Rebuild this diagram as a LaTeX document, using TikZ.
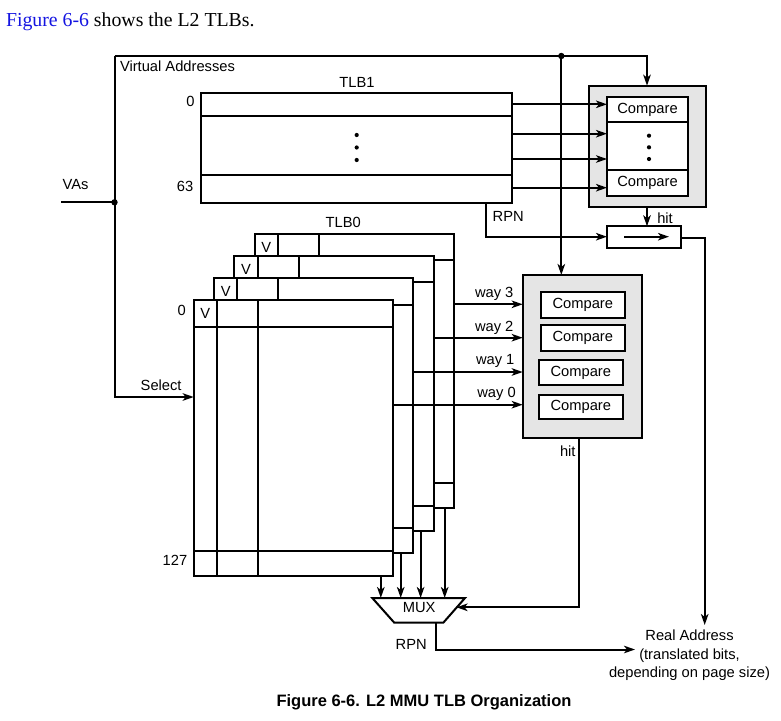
\documentclass[tikz,border=0pt]{standalone}
\usepackage{fontspec}
\setmainfont{Liberation Sans}
\newfontfamily\seriffont{Liberation Serif}
\usetikzlibrary{arrows.meta,calc}
\definecolor{linkblue}{RGB}{20,20,225}
\definecolor{boxgray}{gray}{0.9}
\begin{document}
\begin{tikzpicture}[x=1pt,y=-1pt,line width=2pt,line join=miter,
  >={Stealth[length=11pt,width=7.5pt,inset=3pt]},
  lbl/.style={font=\fontsize{14.7}{17}\selectfont,inner sep=0pt,outer sep=0pt},
  dotc/.style={fill=black,draw=none}]
\useasboundingbox (0,0) rectangle (781,720);
% header text
\node[anchor=base west,inner sep=0pt,font=\seriffont\fontsize{19.8}{22}\selectfont] (hdr) at (5,26) {\textcolor{linkblue}{Figure 6-6} shows the L2 TLBs.};
% ---------- TLB1 ----------
\coordinate (t1nw) at (201,92.7);
\coordinate (t1se) at (512.3,202.7);
\draw (t1nw) rectangle (t1se);
\draw (201,116.3) -- (512.3,116.3);
\draw (201,175) -- (512.3,175);
\foreach \yy in {135,147.5,160} \fill (356.7,\yy) circle (2.1);
\node[lbl,anchor=base] (tlbone) at (357,87) {TLB1};
\node[lbl,anchor=base] (t1zero) at (190.5,106.7) {0};
\node[lbl,anchor=base] (t1last) at (185,191) {63};
% ---------- TLB1 compare ----------
\draw[fill=boxgray] (589,85.7) rectangle (706,207.3);
\draw[fill=white] (607,97) rectangle (688,195.7);
\draw (607,122.3) -- (688,122.3);
\draw (607,169.7) -- (688,169.7);
\node[lbl] (cmpa) at (647.5,109.8) {Compare};
\node[lbl] (cmpb) at (647.5,182.8) {Compare};
\foreach \yy in {135.7,147.3,159} \fill (649,\yy) circle (2.1);
\foreach \yy in {104.3,133.7,159,187.7} \draw[->] (512.3,\yy) -- (607,\yy);
% hit box
\draw (607,226.3) rectangle (681.3,247.7);
\coordinate (hbl) at (624,236.7);
\coordinate (hbr) at (669,236.7);
\draw[->] (hbl) -- (hbr);
\draw[->] (647,207.3) -- (647,226.3);
\node[lbl,anchor=base west] (hitone) at (657.3,223.3) {hit};
\draw[->] (486,202.7) -- (486,236.7) -- (607,236.7);
\node[lbl,anchor=base west] (rpnone) at (492.7,221) {RPN};
\coordinate (realin) at (704.7,625);
\draw[->] (681.3,237.7) -- (704.7,237.7) -- (realin);
% ---------- VA wiring ----------
\coordinate (vaj) at (114.5,202.3);
\coordinate (vtop) at (114.5,56);
\coordinate (sj) at (561.3,56);
\draw (61,202.3) -- (vaj);
\draw[->] (vtop) -- (647,56) -- (647,85.7);
\draw[->] (vtop) -- (114.5,397) -- (193.7,397);
\draw[->] (sj) -- (561.3,275);
\fill (vaj) circle (3.2);
\fill (sj) circle (3.2);
\node[lbl,anchor=base west] (vas) at (62.7,189) {VAs};
\node[lbl,anchor=base west] (vaddr) at (120,71) {Virtual Addresses};
\node[lbl,anchor=base west] (sel) at (140.7,390) {Select};
% ---------- TLB0 stack ----------
\foreach \k in {3,2,1,0} {
  \pgfmathsetmacro\L{193.7+20.3*\k}
  \pgfmathsetmacro\T{300.3-22.2*\k}
  \pgfmathsetmacro\R{392.7+20.4*\k}
  \pgfmathsetmacro\B{575.7-22.6*\k}
  \draw[fill=white] (\L,\T) rectangle (\R,\B);
  \draw (\L,\T+26.4) -- (\R,\T+26.4);
  \draw (\L,\B-24.7) -- (\R,\B-24.7);
  \draw (\L+23.3,\T) -- (\L+23.3,\B);
  \draw (\L+64.3,\T) -- (\L+64.3,\B);
  \node[lbl] (v\k) at (\L+11.65,\T+13.6) {V};
}
\node[lbl,anchor=base] (tlbzero) at (343.3,227.3) {TLB0};
\node[lbl,anchor=base] (t0zero) at (181.7,315.7) {0};
\node[lbl,anchor=base] (t0last) at (175,565.7) {127};
% ---------- TLB0 compare ----------
\draw[fill=boxgray] (522.7,275) rectangle (641.7,437.7);
\draw[fill=white] (540.7,292) rectangle (625,317.7);
\draw[fill=white] (540.7,324.7) rectangle (625,350.7);
\draw[fill=white] (538.7,359.7) rectangle (623,385);
\draw[fill=white] (538.7,394.7) rectangle (623,419.3);
\node[lbl] (c3) at (582.8,305.2) {Compare};
\node[lbl] (c2) at (582.8,338) {Compare};
\node[lbl] (c1) at (580.8,372.6) {Compare};
\node[lbl] (c0) at (580.8,407.3) {Compare};
% way arrows and mux inputs
\foreach \k/\yy/\mx/\lx/\ly in {0/404.7/380.8/477.3/397.7, 1/372/400.7/476/364.3, 2/337.7/420.6/475/331.7, 3/304.3/444.7/475/297.7} {
  \pgfmathsetmacro\R{392.7+20.4*\k}
  \pgfmathsetmacro\B{575.7-22.6*\k}
  \draw[->] (\R,\yy) -- (522.7,\yy);
  \draw[->] (\mx,\B) -- (\mx,598);
  \node[lbl,anchor=base west] (way\k) at (\lx,\ly) {way \k};
}
% ---------- MUX ----------
\draw (372.3,598) -- (465,598) -- (443.3,622.7) -- (394.3,622.7) -- cycle;
\node[lbl,anchor=base] (mux) at (419.2,612.7) {MUX};
\coordinate (hitsrc) at (579,437.7);
\draw[->] (hitsrc) -- (579,607.3) -- (456.5,607.3);
\node[lbl,anchor=base west] (hittwo) at (560,456.7) {hit};
\coordinate (muxout) at (436,622.7);
\draw[->] (muxout) -- (436,649.5) -- (635,649.5);
\node[lbl,anchor=base west] (rpntwo) at (395.7,649) {RPN};
% ---------- Real address ----------
\node[lbl,anchor=base] (ra1) at (689.5,640.7) {Real Address};
\node[lbl,anchor=base] (ra2) at (689.5,659.3) {(translated bits,};
\node[lbl,anchor=base] (ra3) at (689.5,677.7) {depending on page size)};
% caption
\node[anchor=base,inner sep=0pt,font=\bfseries\fontsize{16.5}{19}\selectfont] (cap) at (424,706) {Figure 6-6. L2 MMU TLB Organization};
\end{tikzpicture}
\end{document}
